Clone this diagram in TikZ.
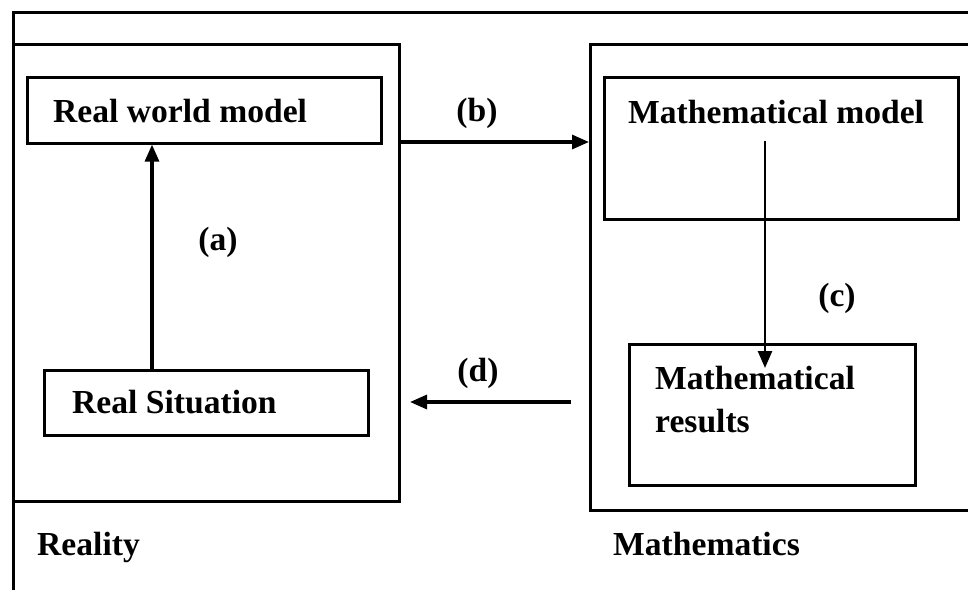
\documentclass[tikz,border=0pt]{standalone}
\usepackage{fontspec}
\setmainfont{Liberation Serif}
\usetikzlibrary{arrows.meta}
\begin{document}
\begin{tikzpicture}[x=1pt,y=-1pt,
  frame/.style={draw=black,line width=2.6pt,inner sep=0pt,anchor=north west},
  lbl/.style={font=\fontsize{33.6}{40}\selectfont\bfseries,inner sep=0pt,anchor=base west},
  tag/.style={font=\fontsize{33.6}{40}\selectfont\bfseries,inner sep=0pt,anchor=center},
  conn/.style={line width=3.2pt,-{Triangle[length=17pt,width=14pt]}}]
\useasboundingbox (0,0) rectangle (968,589);
\clip (0,0) rectangle (968,589);
\fill[white] (0,0) rectangle (968,589);
% outer frame (cropped)
\node[frame,minimum width=1000pt,minimum height=620pt] (outer) at (12,11) {};
% big boxes
\node[frame,minimum width=386pt,minimum height=457pt] (reality) at (12,43) {};
\node[frame,minimum width=411pt,minimum height=466pt] (mathbox) at (589,43) {};
% inner boxes
\node[frame,minimum width=354pt,minimum height=66pt] (rwm) at (26,76) {};
\node[frame,minimum width=354pt,minimum height=142pt] (mm) at (603,76) {};
\node[frame,minimum width=324pt,minimum height=65pt] (rs) at (43,369) {};
\node[frame,minimum width=286pt,minimum height=141pt] (mr) at (628,343) {};
% texts
\node[lbl] (trwm) at (53,122) {Real world model};
\node[lbl] (tmm) at (628,123) {Mathematical model};
\node[lbl] (trs) at (72,413) {Real Situation};
\node[lbl] (tmr1) at (655,389) {Mathematical};
\node[lbl] (tmr2) at (655,432) {results};
\node[lbl] (treal) at (37,555) {Reality};
\node[lbl] (tmath) at (613,555) {Mathematics};
% tags
\node[tag] (la) at (218,242) {(a)};
\node[tag] (lb) at (477,113) {(b)};
\node[tag] (lc) at (837,298) {(c)};
\node[tag] (ld) at (478,373) {(d)};
% connectors
\coordinate (ax) at (152,0);
\coordinate (by) at (0,142);
\coordinate (cs) at (765,141);
\coordinate (ce) at (765,368);
\coordinate (ds) at (571,402);
\coordinate (de) at (410,402);
\draw[conn] (ax |- rs.north) -- (ax |- rwm.south);
\draw[conn] (reality.east |- by) -- (mathbox.west |- by);
\draw[conn,line width=2.6pt] (cs) -- (ce);
\draw[conn] (ds) -- (de);
\end{tikzpicture}
\end{document}
